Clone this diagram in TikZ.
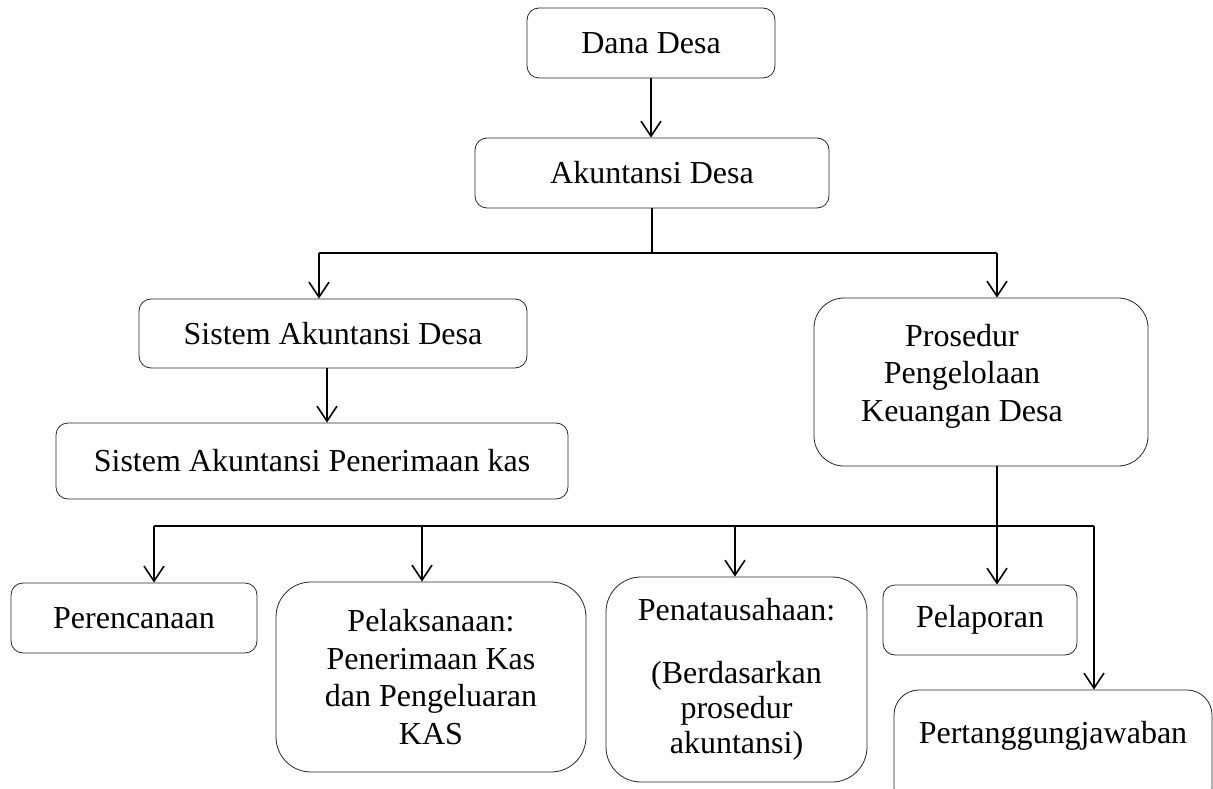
\documentclass[tikz,border=0pt]{standalone}
\usepackage{fontspec}
\setmainfont{Liberation Serif}
\usetikzlibrary{arrows.meta}

\begin{document}
\begin{tikzpicture}[x=1pt, y=-1pt,
	main_node/.style={draw=black!85, line width=0.8pt, rounded corners=12pt, align=center, inner sep=0pt, font=\fontsize{32}{37.5}\selectfont},
	big_node/.style={main_node, rounded corners=35pt},
	link/.style={line width=1.6pt},
	arrow_link/.style={link, -{Straight Barb[length=15pt,width=20pt]}}]

	\useasboundingbox (0,0) rectangle (1213,789);

	\node[main_node, minimum width=248pt, minimum height=70pt] (1) at (651, 43) {Dana Desa};
	\node[main_node, minimum width=354pt, minimum height=70pt] (2) at (652, 173) {Akuntansi Desa};
	\node[main_node, minimum width=388pt, minimum height=69pt] (3) at (333, 333.5) {Sistem Akuntansi Desa};
	\node[main_node, minimum width=512pt, minimum height=76pt] (4) at (312, 461) {Sistem Akuntansi Penerimaan kas};
	\node[main_node, rounded corners=30pt, minimum width=334pt, minimum height=168pt] (5) at (981, 382)
		{\hspace*{-38pt}\raisebox{6pt}[\height][\depth]{\begin{tabular}{@{}c@{}}Prosedur\\Pengelolaan\\Keuangan Desa\end{tabular}}};

	\node[main_node, minimum width=246pt, minimum height=70pt] (6) at (134, 618) {Perencanaan};
	\node[big_node, minimum width=310pt, minimum height=190pt] (7) at (431, 677)
		{\fontsize{32}{36}\selectfont Pelaksanaan:\\Penerimaan Kas\\dan Pengeluaran\\KAS};
	\node[big_node, minimum width=261pt, minimum height=205pt] (8) at (736.5, 679.5)
		{Penatausahaan:\\[25.5pt](Berdasarkan\\[-2.5pt]prosedur\\[-2.5pt]akuntansi)};
	\node[main_node, minimum width=194pt, minimum height=70pt] (9) at (980, 620) {Pelaporan};
	\node[main_node, rounded corners=25pt, minimum width=318pt, minimum height=122pt] (10) at (1053, 751)
		{Pertanggungjawaban\\~};

	\coordinate (a) at (319, 253);
	\coordinate (b) at (997, 253);
	\coordinate (c) at (154, 526);
	\coordinate (e) at (422, 526);
	\coordinate (f) at (735, 526);
	\coordinate (d) at (1094, 526);

	\draw[arrow_link] (1.south) -- (1.south |- 2.north);
	\draw[link] (2.south) -- (2.south |- a);
	\draw[link] (a) -- (b);
	\draw[arrow_link] (a) -- (a |- 3.north);
	\draw[arrow_link] (b) -- (b |- 5.north);
	\draw[arrow_link] ([xshift=-6pt]3.south) -- ([xshift=-6pt]3.south |- 4.north);

	\draw[arrow_link] (b |- 5.south) -- (b |- 9.north);
	\draw[link] (c) -- (d);
	\draw[arrow_link] (c) -- (c |- 6.north);
	\draw[arrow_link] (e) -- (e |- 7.north);
	\draw[arrow_link] (f) -- (f |- 8.north);
	\draw[arrow_link] (d) -- (d |- 10.north);

\end{tikzpicture}
\end{document}
